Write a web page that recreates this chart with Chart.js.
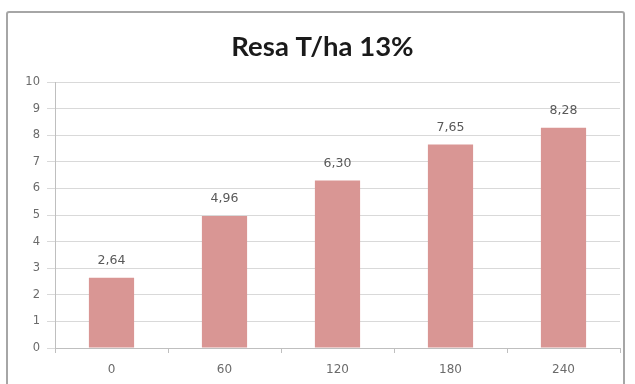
<!DOCTYPE html>
<html>
<head>
<meta charset="utf-8">
<script src="https://cdn.jsdelivr.net/npm/chart.js@4"></script>
<style>
  html, body { margin: 0; padding: 0; background: #ffffff; }
  body { width: 635px; height: 384px; position: relative; overflow: hidden; }
  #frame {
    position: absolute; left: 6px; top: 11px; width: 619px; height: 390px;
    border: 2px solid #a6a6a6; border-radius: 3px; box-sizing: border-box;
  }
  #wrap { position: absolute; left: 0; top: 0; width: 635px; height: 384px; }
</style>
</head>
<body>
<div id="frame"></div>
<div id="wrap"><canvas id="c" width="635" height="384"></canvas></div>
<script>
const chartTitle = 'Resa T/ha 13%';
const categories = ['0', '60', '120', '180', '240'];
const yieldValues = [2.64, 4.96, 6.30, 7.65, 8.28];
const yTicks = [0, 1, 2, 3, 4, 5, 6, 7, 8, 9, 10];

// chart title, drawn in the top band above the plot
const plotTitle = {
  id: 'plotTitle',
  afterDraw(chart) {
    const ctx = chart.ctx;
    ctx.save();
    ctx.font = 'bold 27.5px Lato, sans-serif';
    ctx.fillStyle = '#1a1a1a';
    ctx.textAlign = 'center';
    ctx.textBaseline = 'middle';
    ctx.fillText(chartTitle, chart.width / 2 + 5, 47);
    ctx.restore();
  }
};

// value printed above each bar, decimal comma
const valueLabels = {
  id: 'valueLabels',
  afterDatasetsDraw(chart) {
    const ctx = chart.ctx;
    const meta = chart.getDatasetMeta(0);
    ctx.save();
    ctx.font = '12.5px "DejaVu Sans", sans-serif';
    ctx.fillStyle = '#595959';
    ctx.textAlign = 'center';
    ctx.textBaseline = 'middle';
    meta.data.forEach((bar, i) => {
      const v = chart.data.datasets[0].data[i];
      ctx.fillText(v.toFixed(2).replace('.', ','), bar.x, bar.y - 17);
    });
    ctx.restore();
  }
};

new Chart(document.getElementById('c'), {
  type: 'bar',
  data: {
    labels: categories,
    datasets: [{
      data: yieldValues,
      backgroundColor: '#d99694',
      borderWidth: 0,
      categoryPercentage: 1.0,
      barPercentage: 0.40
    }]
  },
  options: {
    responsive: false,
    animation: false,
    layout: { padding: { left: 5, right: 15, top: 82, bottom: 6 } },
    plugins: {
      legend: { display: false },
      tooltip: { enabled: false },
      title: { display: false }
    },
    scales: {
      x: {
        offset: true,
        grid: { display: true, drawOnChartArea: false, drawTicks: true, tickLength: 5, color: '#bfbfbf', offset: true },
        border: { color: '#bfbfbf' },
        ticks: { color: '#6b6b6b', font: { family: 'DejaVu Sans', size: 12 }, padding: 10 },
        afterFit(scale) { scale.height = 30; }
      },
      y: {
        min: 0, max: 10,
        afterBuildTicks(scale) { scale.ticks = yTicks.map(v => ({ value: v })); },
        grid: { color: '#d9d9d9', lineWidth: 1, tickLength: 8 },
        border: { color: '#bfbfbf' },
        ticks: { color: '#6b6b6b', font: { family: 'DejaVu Sans', size: 11.5 }, padding: 7 },
        afterFit(scale) { scale.width = 50; }
      }
    }
  },
  plugins: [valueLabels, plotTitle]
});
</script>
</body>
</html>
